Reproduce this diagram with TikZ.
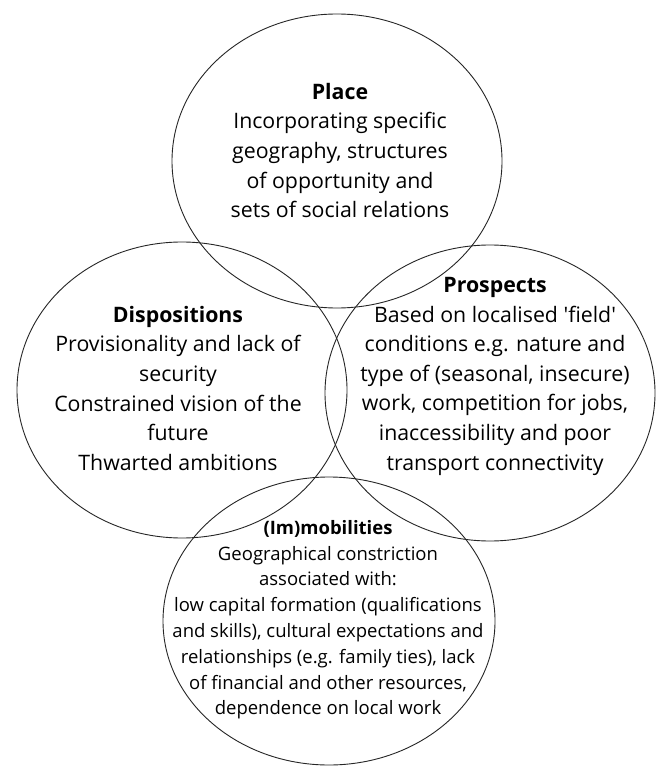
\documentclass[tikz,border=0pt]{standalone}
\usepackage{fontspec}
\setmainfont{Open Sans}
\begin{document}
\begin{tikzpicture}[x=1pt,y=-1pt,
  ring/.style={draw=black!85,line width=0.9pt},
  label/.style={align=center,inner sep=0pt,text=black,
    font=\fontsize{21.3}{29.6}\selectfont},
  smalllabel/.style={align=center,inner sep=0pt,text=black,
    font=\fontsize{18.5}{25.8}\selectfont}]
\useasboundingbox (0,0) rectangle (658,767);
\fill[white] (0,0) rectangle (658,767);

% the four overlapping fields
\coordinate (cplace) at (337,161);
\coordinate (cdisp) at (182,390);
\coordinate (cpros) at (490,393);
\coordinate (cmob) at (329,621);
\draw[ring] (cplace) ellipse [x radius=165, y radius=147];
\draw[ring] (cdisp) ellipse [x radius=165, y radius=148];
\draw[ring] (cpros) ellipse [x radius=165, y radius=148];
\draw[ring] (cmob) ellipse [x radius=166, y radius=144];

% texts
\node[label,anchor=north] (place) at (340,83) {\textbf{Place}\\
  Incorporating specific\\ geography, structures\\ of opportunity and\\ sets of social relations};
\node[label,anchor=north] (disp) at (178,306) {\textbf{Dispositions}\\
  Provisionality and lack of\\ security\\ Constrained vision of the\\ future\\ Thwarted ambitions};
\node[label,anchor=north] (pros) at (495,277) {\textbf{Prospects}\\
  Based on localised \textquotesingle field\textquotesingle\\ conditions e.g. nature and\\ type of (seasonal, insecure)\\
  work, competition for jobs,\\ inaccessibility and poor\\ transport connectivity};
\node[smalllabel,anchor=north] (mob) at (328,520) {\textbf{(Im)mobilities}\\
  Geographical constriction\\ associated with:\\ low capital formation (qualifications\\
  and skills), cultural expectations and\\ relationships (e.g. family ties), lack\\
  of financial and other resources,\\ dependence on local work};
\end{tikzpicture}
\end{document}
